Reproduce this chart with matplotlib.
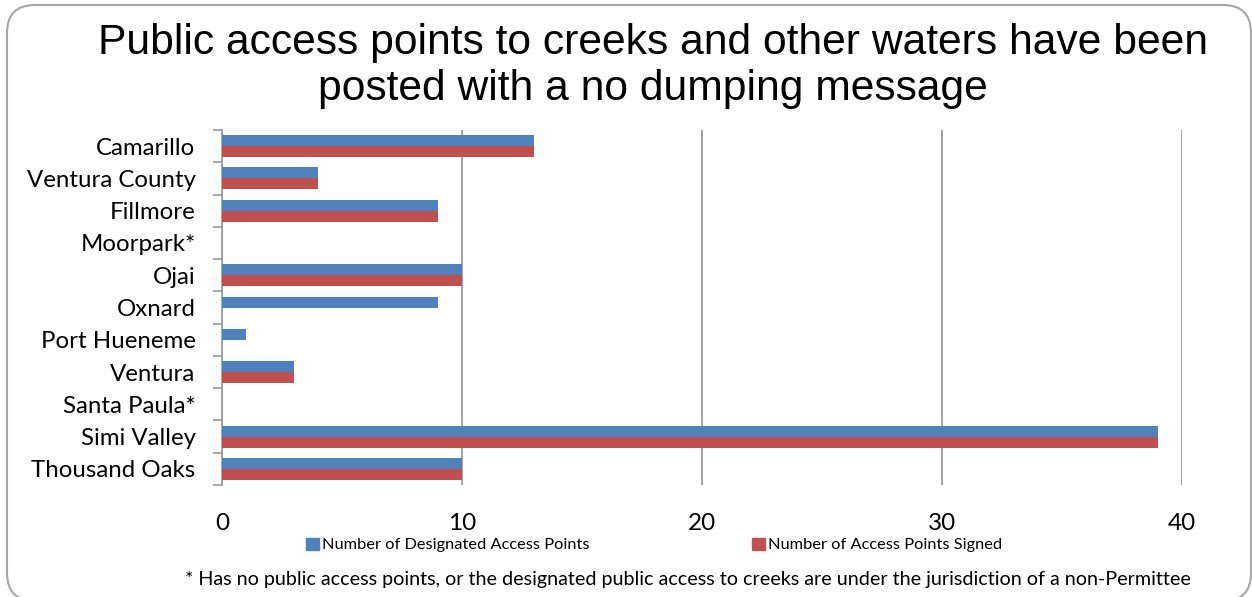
import matplotlib
matplotlib.use('Agg')
import matplotlib.pyplot as plt
import numpy as np
from matplotlib.patches import FancyBboxPatch, Patch
from matplotlib.transforms import IdentityTransform

# data (top to bottom)
cities = ['Camarillo', 'Ventura County', 'Fillmore', 'Moorpark*', 'Ojai', 'Oxnard',
          'Port Hueneme', 'Ventura', 'Santa Paula*', 'Simi Valley', 'Thousand Oaks']
designated = [13, 4, 9, 0, 10, 9, 1, 3, 0, 39, 10]
signed = [13, 4, 9, 0, 10, 0, 0, 3, 0, 39, 10]

blue = '#4F81BD'
red = '#C0504D'
label_font = 'Lato'

fig = plt.figure(figsize=(12.52, 5.97), dpi=100)
ax = fig.add_axes([222/1252, 1 - 485/597, 960/1252, 355/597])

n = len(cities)
y = np.arange(n)
h = 0.34
ax.barh(y - h/2, designated, height=h, color=blue, zorder=3)
ax.barh(y + h/2, signed, height=h, color=red, zorder=3)

ax.set_ylim(n - 0.5, -0.5)
ax.set_xlim(0, 40)
ax.set_yticks(y)
ax.set_yticklabels(cities, fontsize=17.3, family=label_font)
ax.set_yticks(np.arange(n + 1) - 0.5, minor=True)
ax.tick_params(axis='y', which='major', length=0, pad=19)
ax.tick_params(axis='y', which='minor', length=6.5, width=1.2, color='#999999', direction='out')
ax.set_xticks([0, 10, 20, 30, 40])
ax.tick_params(axis='x', length=0, labelsize=17.5, pad=20)
for lab in ax.get_xticklabels():
    lab.set_family(label_font)

ax.grid(axis='x', color='#8c8c8c', linewidth=1.1, zorder=0)
for s in ['top', 'right', 'bottom']:
    ax.spines[s].set_visible(False)
ax.spines['left'].set_color('#999999')
ax.spines['left'].set_linewidth(1.2)

fig.text(653/1252, 1 - 66/597,
         'Public access points to creeks and other waters have been\nposted with a no dumping message',
         ha='center', va='center', fontsize=30.7, family='Liberation Sans', linespacing=1.2)

handles = [Patch(color=blue, label='Number of Designated Access Points'),
           Patch(color=red, label='Number of Access Points Signed')]
fig.legend(handles=handles, loc='center', bbox_to_anchor=(654/1252, 1 - 545/597), ncol=2,
           frameon=False, prop={'family': label_font, 'size': 11.8}, handlelength=0.8,
           handleheight=0.8, handletextpad=0.2, columnspacing=9.9)

fig.text(688/1252, 1 - 580/597,
         '* Has no public access points, or the designated public access to creeks are under the jurisdiction of a non-Permittee',
         ha='center', va='center', fontsize=14.2, family=label_font)

box = FancyBboxPatch((7, -4), 1244, 596, boxstyle='round,pad=0,rounding_size=28',
                     transform=IdentityTransform(), facecolor='none', edgecolor='#a6a6a6',
                     linewidth=1.5)
fig.patches.append(box)

fig.savefig('out.png', dpi=100)
